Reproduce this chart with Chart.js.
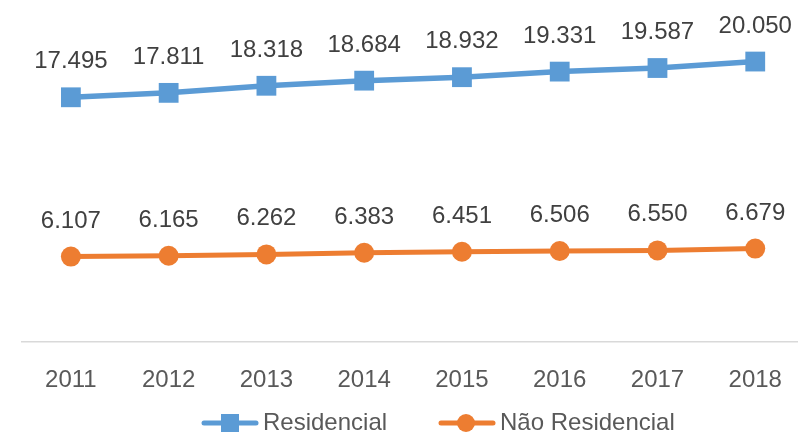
<!DOCTYPE html>
<html>
<head>
<meta charset="utf-8">
<script src="https://cdn.jsdelivr.net/npm/chart.js@4/dist/chart.umd.min.js"></script>
<style>
  html, body { margin: 0; padding: 0; background: #ffffff; overflow: hidden; }
  #wrap { width: 806px; height: 432px; }
</style>
</head>
<body>
<div id="wrap"><canvas id="c" width="806" height="432"></canvas></div>
<script>
const years = ['2011', '2012', '2013', '2014', '2015', '2016', '2017', '2018'];
const residencial = [17495, 17811, 18318, 18684, 18932, 19331, 19587, 20050];
const naoResidencial = [6107, 6165, 6262, 6383, 6451, 6506, 6550, 6679];
const seriesNames = ['Residencial', 'Não Residencial'];

const BLUE = '#5B9BD5';
const ORANGE = '#ED7D31';
const FONT = '"Liberation Sans", Arial, sans-serif';

function fmt(v) {
  return String(v).replace(/\B(?=(\d{3})+(?!\d))/g, '.');
}

// value labels above every point
const valueLabels = {
  id: 'valueLabels',
  afterDatasetsDraw(chart) {
    const ctx = chart.ctx;
    ctx.save();
    ctx.font = '24px ' + FONT;
    ctx.fillStyle = '#404040';
    ctx.textAlign = 'center';
    ctx.textBaseline = 'alphabetic';
    chart.data.datasets.forEach((ds, i) => {
      chart.getDatasetMeta(i).data.forEach((pt, j) => {
        ctx.fillText(fmt(ds.data[j]), pt.x, pt.y - 29);
      });
    });
    ctx.restore();
  }
};

// legend: line sample with marker, then series name
const lineLegend = {
  id: 'lineLegend',
  afterDraw(chart) {
    const ctx = chart.ctx;
    const y = 423;
    const items = [
      { x0: 202, x1: 258, color: BLUE, shape: 'rect', text: seriesNames[0] },
      { x0: 439, x1: 495, color: ORANGE, shape: 'circle', text: seriesNames[1] }
    ];
    ctx.save();
    items.forEach(it => {
      ctx.strokeStyle = it.color;
      ctx.lineWidth = 5;
      ctx.lineCap = 'round';
      ctx.beginPath();
      ctx.moveTo(it.x0 + 2, y);
      ctx.lineTo(it.x1 - 2, y);
      ctx.stroke();
      ctx.fillStyle = it.color;
      const cx = (it.x0 + it.x1) / 2;
      if (it.shape === 'rect') {
        ctx.fillRect(cx - 9, y - 9, 18, 18);
      } else {
        ctx.beginPath();
        ctx.arc(cx - 1, y, 9, 0, Math.PI * 2);
        ctx.fill();
      }
      ctx.fillStyle = '#595959';
      ctx.font = '24px ' + FONT;
      ctx.textAlign = 'left';
      ctx.textBaseline = 'middle';
      ctx.fillText(it.text, it.x1 + 5, y);
    });
    ctx.restore();
  }
};

new Chart(document.getElementById('c'), {
  type: 'line',
  data: {
    labels: years,
    datasets: [
      {
        label: seriesNames[0],
        data: residencial,
        borderColor: BLUE,
        backgroundColor: BLUE,
        borderWidth: 5.5,
        pointStyle: 'rect',
        pointRadius: 14,
        pointHoverRadius: 14,
        pointBorderWidth: 0,
        tension: 0,
        clip: false
      },
      {
        label: seriesNames[1],
        data: naoResidencial,
        borderColor: ORANGE,
        backgroundColor: ORANGE,
        borderWidth: 5,
        pointStyle: 'circle',
        pointRadius: 10,
        pointHoverRadius: 10,
        pointBorderWidth: 0,
        tension: 0,
        clip: false
      }
    ]
  },
  options: {
    responsive: false,
    animation: false,
    devicePixelRatio: 1,
    layout: { autoPadding: false, padding: { left: 22, right: 1, top: 0, bottom: 0 } },
    plugins: {
      legend: { display: false },
      tooltip: { enabled: false }
    },
    scales: {
      y: {
        display: false,
        min: 0,
        max: 24450
      },
      x: {
        offset: true,
        grid: { display: false, drawTicks: false },
        border: { display: true, color: '#d9d9d9', width: 1.5 },
        ticks: {
          color: '#595959',
          font: { family: FONT, size: 24 },
          padding: 24,
          maxRotation: 0
        },
        afterFit(scale) { scale.height = 90; }
      }
    }
  },
  plugins: [valueLabels, lineLegend]
});
</script>
</body>
</html>
